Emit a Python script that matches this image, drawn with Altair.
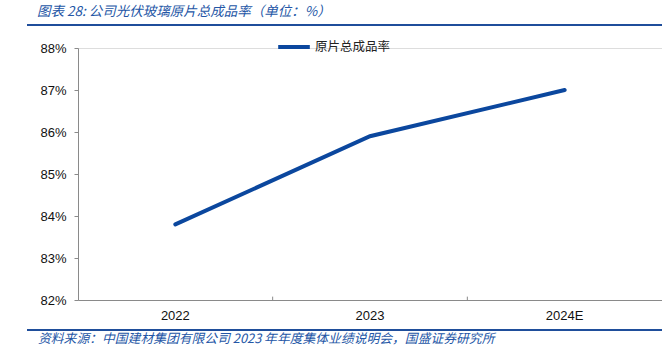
import altair as alt
import pandas as pd

years = ["2022", "2023", "2024E"]
rates = [0.838, 0.859, 0.870]
series_name = "原片总成品率"
title_text = "图表 28:  公司光伏玻璃原片总成品率（单位：%）"
source_text = "资料来源：中国建材集团有限公司 2023 年年度集体业绩说明会，国盛证券研究所"
boundary_years = ["2023", "2024E"]

df = pd.DataFrame({"year": years, "rate": rates, "series": [series_name] * len(years)})
tick_df = pd.DataFrame({"year": boundary_years, "y0": [0.82] * 2, "y1": [0.8208] * 2})

BLUE = "#0B479E"
TBLUE = "#2456A6"
FONT = "Noto Sans CJK SC"
W, H = 584, 252

x_enc = alt.X("year:N", sort=years, scale=alt.Scale(domain=years, paddingInner=0, paddingOuter=0),
              axis=alt.Axis(title=None, ticks=False, labelAngle=0, labelFontSize=13, labelColor="#111",
                            labelFont="Liberation Sans", labelPadding=9, domainColor="#8a8a8a", grid=False))
y_scale = alt.Scale(domain=[0.82, 0.88], nice=False, zero=False)

line = alt.Chart(df).mark_line(strokeWidth=4, strokeCap="round").encode(
    x=x_enc,
    y=alt.Y("rate:Q", scale=y_scale,
            axis=alt.Axis(title=None, format=".0%", values=[0.82, 0.83, 0.84, 0.85, 0.86, 0.87, 0.88],
                          labelFontSize=13, labelColor="#111", labelFont="Liberation Sans",
                          tickSize=4, tickColor="#8a8a8a", domainColor="#8a8a8a", labelPadding=8, grid=False)),
    color=alt.Color("series:N", scale=alt.Scale(range=[BLUE]),
                    legend=alt.Legend(title=None, orient="none", legendX=198, legendY=-19,
                                      symbolType="stroke", symbolStrokeWidth=4, symbolSize=1000,
                                      labelFont=FONT, labelFontSize=12.5, labelColor="#222", labelOffset=3)),
)

ticks = alt.Chart(tick_df).mark_rule(color="#8a8a8a", strokeWidth=1).encode(
    x=alt.X("year:N", sort=years, bandPosition=0),
    y=alt.Y("y0:Q", scale=y_scale),
    y2="y1:Q",
)

deco = pd.DataFrame({"k": [0]})
top_rule = alt.Chart(deco).mark_rule(color="#1F4E9B", strokeWidth=2).encode(
    x=alt.value(-51), x2=alt.value(W), y=alt.value(-23))
bottom_rule = alt.Chart(deco).mark_rule(color="#1F4E9B", strokeWidth=2).encode(
    x=alt.value(-51), x2=alt.value(W), y=alt.value(H + 30))
title = alt.Chart(deco).mark_text(text=title_text, font=FONT, fontSize=13.5, fontStyle="italic",
                                  color=TBLUE, align="left", baseline="middle").encode(
    x=alt.value(-41), y=alt.value(-36))
source = alt.Chart(deco).mark_text(text=source_text, font=FONT, fontSize=12.8, fontStyle="italic",
                                   color=TBLUE, align="left", baseline="middle").encode(
    x=alt.value(-40), y=alt.value(H + 39))

chart = alt.layer(line, ticks, top_rule, bottom_rule, title, source).properties(
    width=W, height=H,
    autosize=alt.AutoSizeParams(type="none"),
    padding={"left": 78, "top": 48, "right": 0, "bottom": 52},
).configure_view(stroke=None).configure(background="white")

chart.save("out.html", embed_options={"renderer": "svg", "actions": False})
